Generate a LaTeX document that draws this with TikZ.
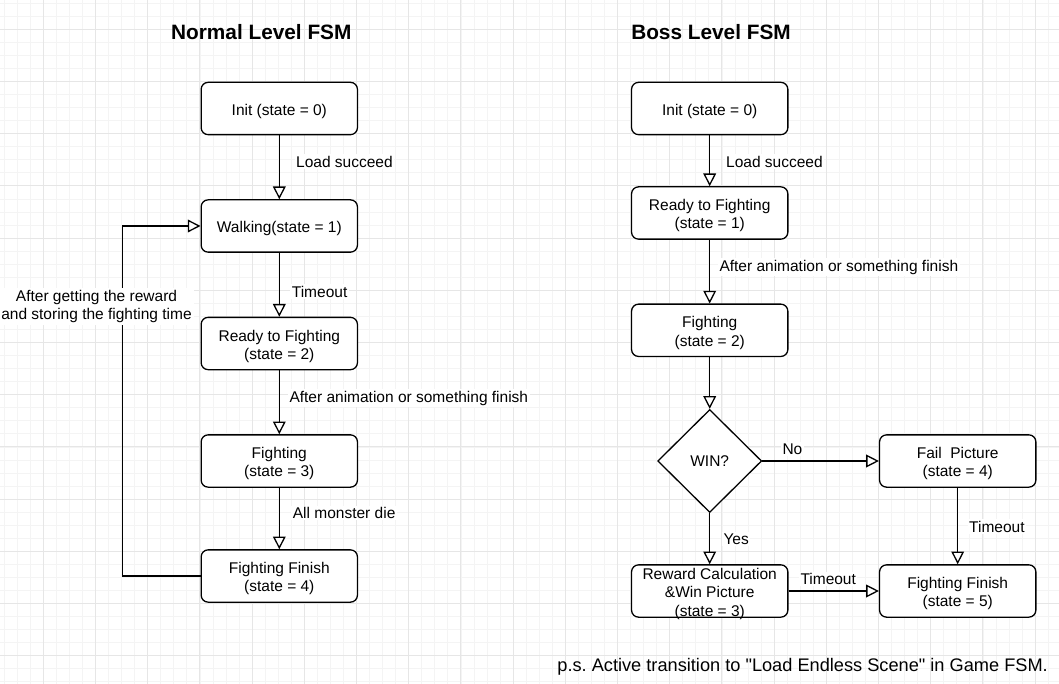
\documentclass[tikz,border=0pt]{standalone}
\usepackage{fontspec}
\setmainfont{Liberation Sans}[Ligatures=TeXOff]
\usetikzlibrary{arrows.meta,shapes.geometric}
\definecolor{gminor}{HTML}{F4F4F4}
\definecolor{gmajor}{HTML}{E6E6E6}
\frenchspacing
\begin{document}
\begin{tikzpicture}[x=1pt,y=-1pt,
  every node/.style={font=\fontsize{15.5}{18.3}\selectfont},
  state/.style={draw, fill=white, rounded corners=7, line width=1.3, minimum width=156.3, minimum height=52.3, inner sep=0,
    label={[align=center, yshift=-2.8pt]center:{#1}}},
  dec/.style={draw, fill=white, diamond, aspect=1, minimum width=104, minimum height=103, inner sep=0, line width=1.3},
  arr/.style={line width=1.3, -{Triangle[length=12.7pt,width=12.7pt,fill=white]}},
  lbl/.style={fill=white, inner sep=1.5, anchor=base west},
  ttl/.style={font=\fontsize{20.8}{24}\selectfont\bfseries, anchor=base},
  gmin/.style={gminor, line width=0.8},
  gmaj/.style={gmajor, line width=0.9},
  ]
\useasboundingbox (0,0) rectangle (1059,684);
\fill[white] (0,0) rectangle (1059,684);
% grid
\foreach \i in {0,...,81} \draw[gmin] ({4.15+13.05*\i},0) -- ({4.15+13.05*\i},684);
\foreach \i in {0,...,52} \draw[gmin] (0,{3.2+13.05*\i}) -- (1059,{3.2+13.05*\i});
\foreach \i in {0,...,19} \draw[gmaj] ({43.3+52.2*\i},0) -- ({43.3+52.2*\i},684);
\foreach \i in {0,...,12} \draw[gmaj] (0,{29.3+52.2*\i}) -- (1059,{29.3+52.2*\i});

% titles
\node[ttl] (t1) at (261.3,39.5) {Normal Level FSM};
\node[ttl] (t2) at (711,39.5) {Boss Level FSM};

% normal level
\node[state={Init (state = 0)}] (n0) at (279.3,108.5) {};
\node[state={Walking(state = 1)}] (n1) at (279.3,226) {};
\node[state={Ready to Fighting\\(state = 2)}] (n2) at (279.3,343.5) {};
\node[state={Fighting\\(state = 3)}] (n3) at (279.3,461) {};
\node[state={Fighting Finish\\(state = 4)}] (n4) at (279.3,576) {};

\draw[arr] (n0) -- (n1);
\draw[arr] (n1) -- (n2);
\draw[arr] (n2) -- (n3);
\draw[arr] (n3) -- (n4);
\draw[arr] (n4.west) -- ++(-78.3,0) |- (n1.west);

\node[lbl] (l1) at (294.5,167.2) {Load succeed};
\node[lbl] (l2) at (290.2,297.2) {Timeout};
\node[lbl] (l3) at (287.8,402.2) {After animation or something finish};
\node[lbl] (l4) at (291.2,518.8) {All monster die};
\node[fill=white, inner sep=2, align=center] (lp) at (96.5,306.5) {After getting the reward\\and storing the fighting time};

% boss level
\node[state={Init (state = 0)}] (b0) at (709.7,108.5) {};
\node[state={Ready to Fighting\\(state = 1)}] (b1) at (709.7,213) {};
\node[state={Fighting\\(state = 2)}] (b2) at (709.7,330.3) {};
\node[dec] (win) at (709.7,461) {WIN?};
\node[state={Fail\ \ Picture\\(state = 4)}] (fail) at (957.7,461) {};
\node[state={Reward Calculation\\\&Win Picture\\(state = 3)}] (rew) at (709.7,591) {};
\node[state={Fighting Finish\\(state = 5)}] (ff5) at (957.7,591) {};

\draw[arr] (b0) -- (b1);
\draw[arr] (b1) -- (b2);
\draw[arr] (b2) -- (win);
\draw[arr] (win) -- (fail);
\draw[arr] (win) -- (rew);
\draw[arr] (fail) -- (ff5);
\draw[arr] (rew) -- (ff5);

\node[lbl] (m1) at (724.5,167.2) {Load succeed};
\node[lbl] (m2) at (717.8,271.2) {After animation or something finish};
\node[lbl] (m3) at (780.8,454.2) {No};
\node[lbl] (m4) at (721.8,544.5) {Yes};
\node[lbl] (m5) at (967.5,532.2) {Timeout};
\node[lbl] (m6) at (798.8,584.5) {Timeout};

\node[anchor=base east, inner sep=0, font=\fontsize{18.2}{21}\selectfont] (ps) at (1048,671.5) {p.s. Active transition to "Load Endless Scene" in Game FSM.};
\end{tikzpicture}
\end{document}
